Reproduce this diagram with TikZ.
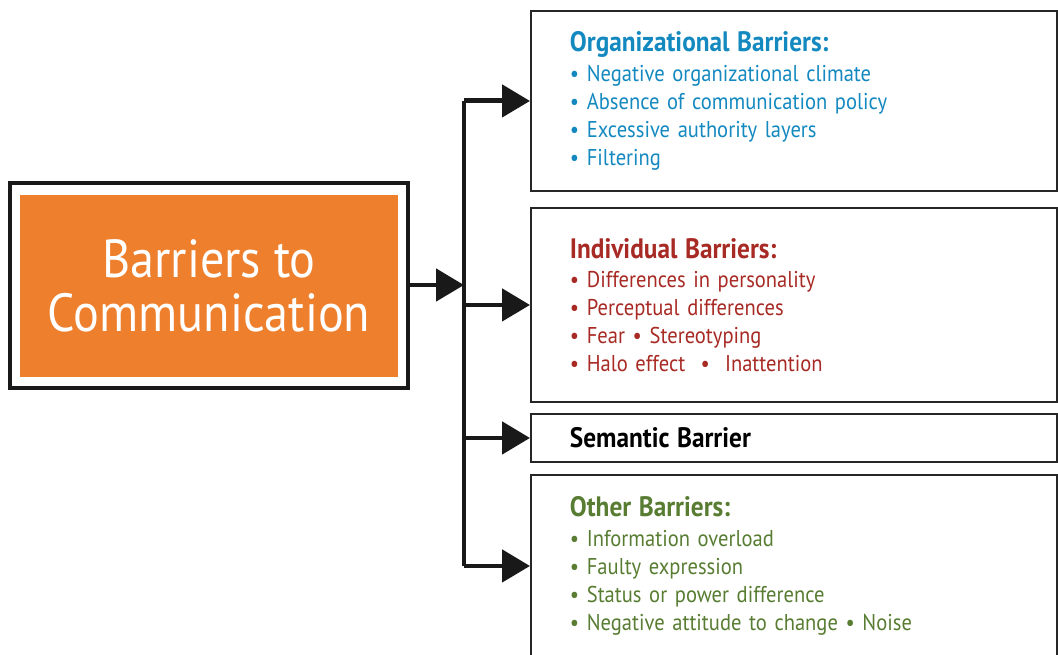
\documentclass[tikz,border=0pt]{standalone}
\usepackage{fontspec}
\setmainfont{PT Sans}[FakeStretch=0.9]
\usepackage{tikz}
\usetikzlibrary{arrows.meta}
\definecolor{barorange}{RGB}{238,127,45}
\definecolor{orgblue}{RGB}{20,137,192}
\definecolor{indred}{RGB}{168,42,36}
\definecolor{othgreen}{RGB}{88,125,50}

\begin{document}
\begin{tikzpicture}[x=0.02cm,y=-0.02cm]
\tikzset{barbox/.style = {shape=rectangle,draw=black!85,line width=1.1pt,fill=white,anchor=north west,
  minimum width=10.52cm,text width=8.96cm,inner xsep=0.78cm,align=left,font=\fontsize{13}{15.9}\selectfont}}
\tikzset{edge/.style = {-{Triangle[length=0.56cm,width=0.64cm]},line width=2.8pt,black!90}}
\useasboundingbox (0,0) rectangle (1058,654);
\node[draw=black!90,line width=2.2pt,minimum width=7.96cm,minimum height=4.1cm](frame) at (209,285.5) {};
\node[fill=barorange,minimum width=7.56cm,minimum height=3.64cm,text=white,align=center,
  font=\fontsize{30.5}{31}\selectfont](main) at (209,286) {Barriers to\\Communication};
\node[barbox,minimum height=3.6cm,text=orgblue](org) at (530,10)
  {{\fontsize{16}{16}\selectfont\bfseries Organizational Barriers:}\\[1pt]
   \textbullet\ Negative organizational climate\\
   \textbullet\ Absence of communication policy\\
   \textbullet\ Excessive authority layers\\
   \textbullet\ Filtering};
\node[barbox,minimum height=3.88cm,text=indred](ind) at (530,207)
  {{\fontsize{16}{16}\selectfont\bfseries Individual Barriers:}\\[1pt]
   \textbullet\ Differences in personality\\
   \textbullet\ Perceptual differences\\
   \textbullet\ Fear \textbullet\ Stereotyping\\
   \textbullet\ Halo effect \ \textbullet\ \ Inattention};
\node[barbox,minimum height=0.96cm,text=black](sem) at (530,413)
  {{\fontsize{16}{16}\selectfont\bfseries Semantic Barrier}};
\node[barbox,minimum height=3.64cm,text=othgreen](oth) at (530,474)
  {{\fontsize{16}{16}\selectfont\bfseries Other Barriers:}\\[1pt]
   \textbullet\ Information overload\\
   \textbullet\ Faulty expression\\
   \textbullet\ Status or power difference\\
   \textbullet\ Negative attitude to change \textbullet\ Noise};
\coordinate (trunk) at (464,285);
\draw[edge] (frame.east |- trunk) -- (trunk);
\draw[line width=2.8pt,black!90] (org.west -| trunk) -- (oth.west -| trunk);
\draw[edge] (org.west -| trunk) -- (org.west);
\draw[edge] (ind.west -| trunk) -- (ind.west);
\draw[edge] (sem.west -| trunk) -- (sem.west);
\draw[edge] (oth.west -| trunk) -- (oth.west);
\end{tikzpicture}
\end{document}
